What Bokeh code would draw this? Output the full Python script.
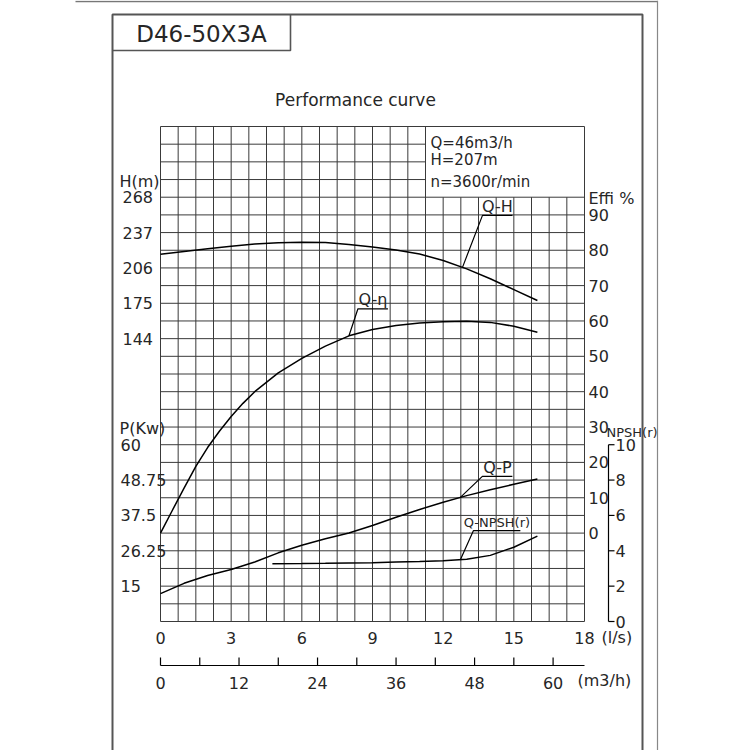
import numpy as np
from bokeh.plotting import figure
from bokeh.models import Range1d
from bokeh.core.properties import value
from bokeh.embed import file_html
from bokeh.resources import INLINE

# ---------------- data ----------------
flow_ls = [0, 1, 2, 3, 4, 5, 6, 7, 8, 9, 10, 11, 12, 13, 14, 15, 16]
head_m = [218.0, 220.5, 222.8, 225.0, 227.0, 228.0, 228.6, 228.2, 226.6, 224.4,
          221.8, 218.2, 212.5, 205.2, 196.5, 187.0, 177.4]
eff_q = [0, 0.5, 1, 1.5, 2, 2.5, 3, 3.5, 4, 5, 6, 7, 8, 9, 10, 11, 12, 13, 14, 15, 16]
eff_pct = [0.0, 6.4, 12.7, 18.9, 24.2, 28.8, 33.0, 36.7, 40.0, 45.3, 49.4, 52.9,
           55.8, 57.6, 58.7, 59.4, 59.8, 59.9, 59.6, 58.5, 56.8]
power_kw = [12.6, 15.9, 18.4, 20.3, 22.7, 25.6, 28.0, 30.1, 31.9, 34.3,
            36.9, 39.4, 41.7, 43.8, 45.7, 47.4, 49.1]
npsh_q = [4.75, 6, 7, 8, 9, 10, 11, 12, 13, 14, 15, 16]
npsh_m = [3.27, 3.28, 3.29, 3.31, 3.33, 3.36, 3.39, 3.43, 3.52, 3.74, 4.20, 4.83]

h_ticks = [144, 175, 206, 237, 268]
eff_ticks = [0, 10, 20, 30, 40, 50, 60, 70, 80, 90]
p_ticks = [15, 26.25, 37.5, 48.75, 60]
p_tick_labels = ["15", "26.25", "37.5", "48.75", "60"]
npsh_ticks = [0, 2, 4, 6, 8, 10]
q_ls_ticks = [0, 3, 6, 9, 12, 15, 18]
q_m3h_ticks = [0, 12, 24, 36, 48, 60]
q_m3h_minor = [0, 6, 12, 18, 24, 30, 36, 42, 48, 54, 60]
LS_TO_M3H = 3.6

title_text = "D46-50X3A"
subtitle_text = "Performance curve"
duty_lines = ["Q=46m3/h", "H=207m", "n=3600r/min"]

# ---------------- layout ----------------
W = 750
GL, GR, GT, GB = 160, 584, 126, 621        # grid box in screen px
Q_MAX, NCOL, NROW = 18, 24, 28
H_TOP, H_BOT = 330, -104
E_TOP, E_BOT = 115, -25
P_TOP, P_BOT = 161.25, 3.75
N_TOP, N_BOT = 28, 0
BOX_COL, BOX_ROW = 15, 4                   # info box: columns >= 15, rows < 4

FONT = value("DejaVu Sans")
INK = "#262626"

sx = (GR - GL) / Q_MAX


def yrange(top, bot):
    s = (GB - GT) / (top - bot)
    return Range1d(bot - (W - GB) / s, top + GT / s)


xr = Range1d(-GL / sx, Q_MAX + (W - GR) / sx)
yr = yrange(H_TOP, H_BOT)
sy = (GB - GT) / (H_TOP - H_BOT)


def X(px):
    return xr.start + px / sx


def Y(py):
    return yr.end - py / sy


p = figure(width=W, height=W, x_range=xr, y_range=yr,
           x_axis_type=None, y_axis_type=None, min_border=0,
           toolbar_location=None, output_backend="svg",
           outline_line_color=None, background_fill_color="white",
           border_fill_color="white")
p.extra_y_ranges = {"eff": yrange(E_TOP, E_BOT),
                    "pw": yrange(P_TOP, P_BOT),
                    "npsh": yrange(N_TOP, N_BOT)}
p.grid.visible = False

# ---------------- frame ----------------
frame_col = "#555555"
p.line([X(75), X(657)], [Y(1), Y(1)], line_color="#777777", line_width=1.5)
p.line([X(657), X(657)], [Y(0), Y(750)], line_color="#888888", line_width=1.2)
p.line([X(112), X(112), X(642), X(642)], [Y(750), Y(14), Y(14), Y(750)],
       line_color=frame_col, line_width=2)
p.line([X(112), X(290), X(290)], [Y(50), Y(50), Y(14)],
       line_color=frame_col, line_width=1.6)

# ---------------- grid ----------------
col_w = Q_MAX / NCOL
row_h = (H_TOP - H_BOT) / NROW
box_q = BOX_COL * col_w
box_h = H_TOP - BOX_ROW * row_h
vx0, vx1, vy0, vy1 = [], [], [], []
for i in range(NCOL + 1):
    q = i * col_w
    top = box_h if (BOX_COL < i < NCOL) else H_TOP
    vx0.append(q); vx1.append(q); vy0.append(H_BOT); vy1.append(top)
for j in range(NROW + 1):
    h = H_TOP - j * row_h
    right = box_q if (0 < j < BOX_ROW) else Q_MAX
    vx0.append(0); vx1.append(right); vy0.append(h); vy1.append(h)
p.segment(x0=vx0, y0=vy0, x1=vx1, y1=vy1, line_color="#3a3a3a", line_width=1)

# ---------------- curves ----------------
CW = 1.5
p.line(flow_ls, head_m, line_color="black", line_width=CW)
p.line(eff_q, eff_pct, line_color="black", line_width=CW, y_range_name="eff")
p.line(flow_ls, power_kw, line_color="black", line_width=CW, y_range_name="pw")
p.line(npsh_q, npsh_m, line_color="black", line_width=CW, y_range_name="npsh")

rng_scale = {"default": sy}
for k, r in p.extra_y_ranges.items():
    rng_scale[k] = W / (r.end - r.start)


def leader(name, qa, qs, vs, dx, dy, ulen, label, fsize, tdy):
    s = rng_scale[name]
    va = float(np.interp(qa, qs, vs))
    qe = qa + dx / sx
    ve = va - dy / s
    qu = qe + ulen / sx
    kw = {} if name == "default" else {"y_range_name": name}
    p.line([qa, qe, qu], [va, ve, ve], line_color="black", line_width=1.2, **kw)
    p.text(x=[(qe + qu) / 2], y=[ve + tdy / s], text=[label], text_font=FONT,
           text_font_size=fsize, text_align="center", text_baseline="middle",
           text_color=INK, **kw)


leader("default", 12.82, flow_ls, head_m, 20, -52, 30, "Q-H", "16px", 9)
leader("eff", 8.0, eff_q, eff_pct, 9, -27, 30, "Q-η", "16px", 9)
leader("pw", 12.73, flow_ls, power_kw, 22, -21, 30, "Q-P", "16px", 9)
leader("npsh", 12.73, npsh_q, npsh_m, 13, -29, 47, "Q-NPSH(r)", "13px", 8)

# ---------------- texts ----------------


def txt(x, y, t, size="16px", align="left", **kw):
    p.text(x=x, y=y, text=t, text_font=FONT, text_font_size=size,
           text_align=align, text_baseline="middle", text_color=INK, **kw)


txt([X(201)], [Y(33)], [title_text], "23px", "center")
txt([X(355)], [Y(99)], [subtitle_text], "17px", "center")
txt([X(430)] * 3, [Y(142), Y(159), Y(181)], duty_lines, "15px")

# H axis
txt([X(119)], [Y(181)], ["H(m)"], "16px")
txt([X(122)] * len(h_ticks), h_ticks, [str(v) for v in h_ticks], "16px")
# P axis
txt([X(119)], [Y(428)], ["P(Kw)"], "16px")
txt([X(120)] * len(p_ticks), p_ticks, p_tick_labels, "16px", y_range_name="pw")
# Efficiency axis
txt([X(588)], [Y(198)], ["Effi  %"], "16px")
txt([X(588)] * len(eff_ticks), eff_ticks, [str(v) for v in eff_ticks], "16px",
    y_range_name="eff")
# NPSH axis
ax_x = X(608)
p.line([ax_x, ax_x], [npsh_ticks[0], npsh_ticks[-1]], line_color="black",
       line_width=1.2, y_range_name="npsh")
p.segment(x0=[ax_x] * len(npsh_ticks), x1=[X(614)] * len(npsh_ticks),
          y0=npsh_ticks, y1=npsh_ticks, line_color="black", line_width=1.2,
          y_range_name="npsh")
txt([X(615)] * len(npsh_ticks), npsh_ticks, [str(v) for v in npsh_ticks], "16px",
    y_range_name="npsh")
txt([X(606)], [Y(432)], ["NPSH(r)"], "13px")

# flow axes
txt(q_ls_ticks, [Y(637)] * len(q_ls_ticks), [str(v) for v in q_ls_ticks], "16px",
    "center")
txt([X(601)], [Y(637)], ["(l/s)"], "16px")
ruler_y = Y(665)
p.line([0, Q_MAX], [ruler_y, ruler_y], line_color="black", line_width=1.2)
mq = [v / LS_TO_M3H for v in q_m3h_minor]
p.segment(x0=mq, x1=mq, y0=[ruler_y] * len(mq), y1=[Y(657)] * len(mq),
          line_color="black", line_width=1.2)
txt([v / LS_TO_M3H for v in q_m3h_ticks], [Y(682)] * len(q_m3h_ticks),
    [str(v) for v in q_m3h_ticks], "16px", "center")
txt([X(577)], [Y(680)], ["(m3/h)"], "16px")

open("out.html", "w").write(file_html(p, INLINE))
